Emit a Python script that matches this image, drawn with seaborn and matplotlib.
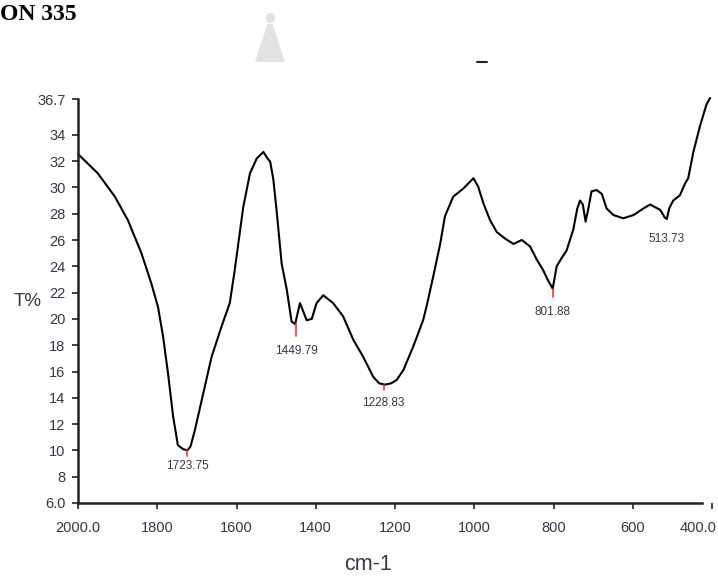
import matplotlib
matplotlib.use("Agg")
import matplotlib.pyplot as plt
import matplotlib.patches as mpatches
import matplotlib.transforms as mtransforms
import seaborn as sns
import pandas as pd

# ---- data ----
wavenumber = [2000, 1950, 1907, 1874, 1840, 1815, 1798, 1785, 1773, 1760, 1748, 1735,
              1724, 1716, 1705, 1680, 1663, 1638, 1617, 1605, 1596, 1583, 1566, 1549,
              1532, 1524, 1515, 1507, 1498, 1486, 1473, 1461, 1452, 1446, 1440, 1432,
              1423, 1410, 1398, 1381, 1356, 1331, 1305, 1280, 1255, 1240, 1225, 1210,
              1196, 1179, 1154, 1129, 1120, 1103, 1086, 1074, 1053, 1028, 1002, 990,
              977, 960, 943, 922, 901, 880, 859, 842, 826, 815, 802, 792, 780, 767,
              750, 740, 733, 726, 719, 712, 704, 691, 678, 666, 649, 624, 598, 573,
              556, 544, 531, 519, 514, 508, 498, 481, 468, 460, 447, 430, 414, 405]
transmittance = [32.54, 31.07, 29.3, 27.5, 25.0, 22.7, 20.9, 18.6, 15.9, 12.6, 10.4, 10.1,
                 10.0, 10.3, 11.55, 14.85, 17.1, 19.4, 21.2, 23.6, 25.6, 28.5, 31.07, 32.2,
                 32.7, 32.3, 31.95, 30.6, 28.0, 24.2, 22.2, 19.8, 19.6, 20.4, 21.2, 20.6,
                 19.9, 20.0, 21.2, 21.8, 21.2, 20.2, 18.4, 17.1, 15.6, 15.1, 15.0, 15.1,
                 15.35, 16.1, 17.9, 19.9, 21.0, 23.3, 25.7, 27.8, 29.3, 29.9, 30.7, 30.05,
                 28.8, 27.5, 26.6, 26.1, 25.7, 26.0, 25.5, 24.5, 23.7, 23.0, 22.3, 24.0, 24.6, 25.2,
                 26.8, 28.4, 29.0, 28.7, 27.4, 28.4, 29.7, 29.8, 29.5, 28.4, 27.9, 27.65, 27.9, 28.4,
                 28.7, 28.5, 28.3, 27.7, 27.6, 28.4, 29.0, 29.4, 30.3, 30.7, 32.7, 34.7, 36.3, 36.8]

peak_wn = [1723.75, 1449.79, 1228.83, 801.88, 513.73]
peak_T = [10.0, 19.6, 15.0, 22.3, 27.6]
peak_labels = ["1723.75", "1449.79", "1228.83", "801.88", "513.73"]

x_ticks = [2000, 1800, 1600, 1400, 1200, 1000, 800, 600, 400]
x_ticklabels = ["2000.0", "1800", "1600", "1400", "1200", "1000", "800", "600", "400.0"]
y_ticks = [6, 8, 10, 12, 14, 16, 18, 20, 22, 24, 26, 28, 30, 32, 34, 36.7]
y_ticklabels = ["6.0", "8", "10", "12", "14", "16", "18", "20", "22", "24", "26",
                "28", "30", "32", "34", "36.7"]

# ---- style ----
sns.set_theme(style="white")
plt.rcParams["font.family"] = ["Liberation Sans", "DejaVu Sans"]

W, H = 718, 578
fig = plt.figure(figsize=(W / 100, H / 100), dpi=100)
ax = fig.add_axes([78 / W, 75 / H, (712 - 78) / W, (503 - 99.3) / H])

df = pd.DataFrame({"wn": wavenumber, "T": transmittance})
sns.lineplot(data=df, x="wn", y="T", sort=False, color="black", linewidth=1.5, ax=ax,
             clip_on=False)

ax.set_xlim(2000, 400)
ax.set_ylim(6.0, 36.7)

tick_color = "#3b3448"
ax.set_xticks(x_ticks)
ax.set_xticklabels(x_ticklabels)
ax.set_yticks(y_ticks)
ax.set_yticklabels(y_ticklabels)
ax.tick_params(axis="both", which="major", direction="out", length=4, width=1.2,
               color="#222222", labelcolor=tick_color, labelsize=10.5)
ax.tick_params(axis="x", pad=9)
ax.tick_params(axis="y", pad=5)
ax.tick_params(bottom=True, left=True)

# last x label sits slightly left of its tick, as in the reference
last = ax.get_xticklabels()[-1]
last.set_transform(last.get_transform() +
                   mtransforms.ScaledTranslation(-14 / 100, 0, fig.dpi_scale_trans))

for side in ["top", "right"]:
    ax.spines[side].set_visible(False)
for side in ["left", "bottom"]:
    ax.spines[side].set_color("#222222")
    ax.spines[side].set_linewidth(1.8)
ax.spines["bottom"].set_bounds(2000, 425)

ax.set_xlabel("")
ax.set_ylabel("")

# peak markers and labels
tick_len = [0.45, 0.9, 0.4, 0.6, 0.0]
label_off = [11, 19, 13, 16.5, 14.5]
for wn, t, lab, tl, off in zip(peak_wn, peak_T, peak_labels, tick_len, label_off):
    if tl > 0:
        ax.plot([wn, wn], [t, t - tl], color="#ff3030", linewidth=1.2, clip_on=False)
    ax.annotate(lab, xy=(wn, t), xytext=(0, -off), textcoords="offset points",
                ha="center", va="center", fontsize=8.5, color=tick_color)

# axis titles
fig.text(27.5 / W, 1 - 302 / H, "T%", fontsize=13.5, color=tick_color,
         ha="center", va="center")
fig.text(368 / W, 1 - 565 / H, "cm-1", fontsize=15.5, color=tick_color,
         ha="center", va="center")

# heading fragment at top left
fig.text(0.5 / W, 1 - 14 / H, "ON 335", fontsize=17, fontweight="bold",
         family=["Liberation Serif", "DejaVu Serif"], color="black",
         ha="left", va="center")

# faint watermark shape and small dash
wm = "#e2e2e2"
fig.patches.append(mpatches.Polygon([(255 / W, 1 - 62 / H), (285 / W, 1 - 62 / H),
                                     (272.5 / W, 1 - 24 / H), (267.5 / W, 1 - 24 / H)],
                                    closed=True, transform=fig.transFigure,
                                    facecolor=wm, edgecolor="none"))
fig.patches.append(mpatches.Ellipse((270.5 / W, 1 - 18 / H), 9 / W, 10 / H,
                                    transform=fig.transFigure, facecolor=wm,
                                    edgecolor="none"))
fig.lines.append(plt.Line2D([477 / W, 487 / W], [1 - 62 / H, 1 - 62 / H],
                            transform=fig.transFigure, color="#202030", linewidth=1.5))

fig.savefig("out.png", dpi=100)
